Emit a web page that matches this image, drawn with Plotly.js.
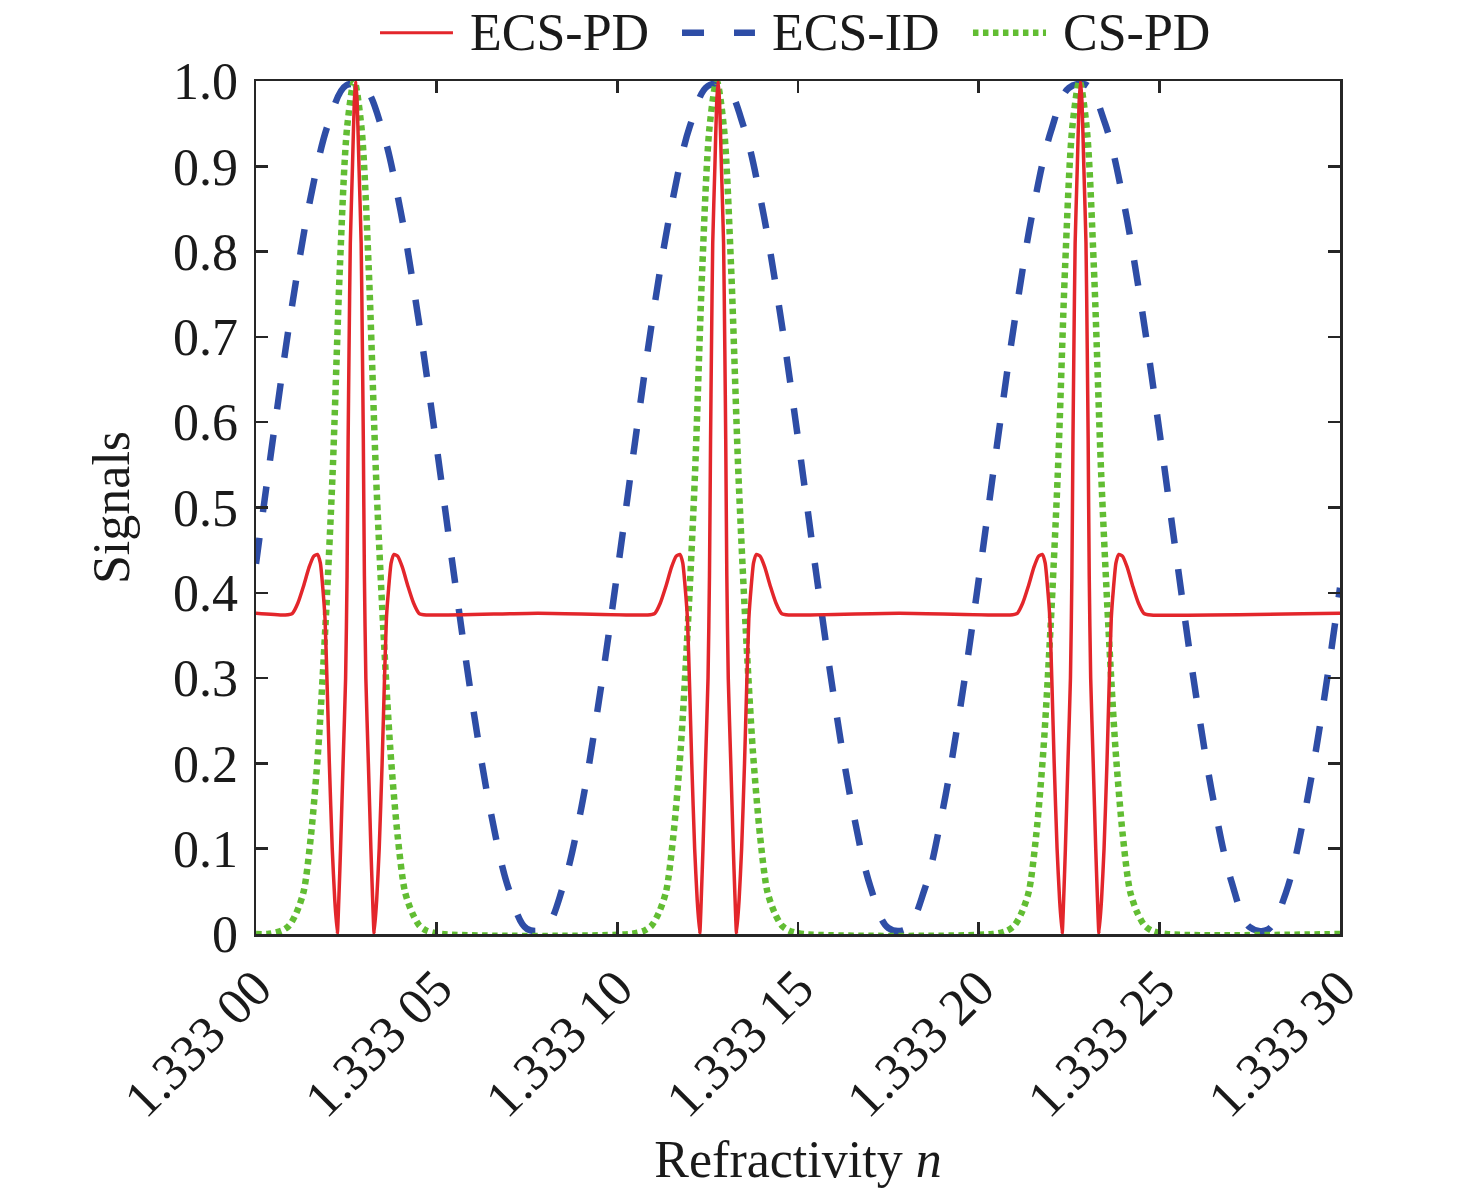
<!DOCTYPE html>
<html>
<head>
<meta charset="utf-8">
<script src="https://cdn.plot.ly/plotly-3.0.1.min.js"></script>
<style>
  html, body { margin: 0; padding: 0; background: #ffffff; }
  #chart1 { width: 1476px; height: 1195px; }
</style>
</head>
<body>
<div id="chart1"></div>
<script>
// refractivity axis: offset from 1.333 00, in units of 1e-5
const tickVals = [0, 5, 10, 15, 20, 25, 30]
const tickText = ['1.333 00', '1.333 05', '1.333 10', '1.333 15', '1.333 20', '1.333 25', '1.333 30']
const yTickVals = [0, 0.1, 0.2, 0.3, 0.4, 0.5, 0.6, 0.7, 0.8, 0.9, 1.0]
const yTickText = ['0', '0.1', '0.2', '0.3', '0.4', '0.5', '0.6', '0.7', '0.8', '0.9', '1.0']

const seriesNames = ['ECS-PD', 'ECS-ID', 'CS-PD']

// ECS-PD (red, solid)
const redDn = [0,
  0.81, 1.01, 1.16, 1.31, 1.47, 1.60, 1.70, 1.78, 1.85, 1.91, 1.97, 2.03, 2.11, 2.18, 2.25, 2.30, 2.34, 2.41, 2.48, 2.52, 2.55, 2.575, 2.61, 2.67, 2.72,
  2.76,
  2.80, 2.85, 2.91, 2.945, 2.97, 3.00, 3.04, 3.11, 3.18, 3.22, 3.27, 3.34, 3.41, 3.49, 3.55, 3.61, 3.67, 3.74, 3.82, 3.92, 4.05, 4.21, 4.36, 4.51, 4.71,
  7.8,
  10.84, 11.04, 11.19, 11.34, 11.50, 11.63, 11.73, 11.81, 11.88, 11.94, 12.00, 12.06, 12.14, 12.21, 12.28, 12.33, 12.37, 12.44, 12.51, 12.55, 12.58, 12.605, 12.64, 12.70, 12.75,
  12.79,
  12.83, 12.88, 12.94, 12.975, 13.00, 13.03, 13.07, 13.14, 13.21, 13.25, 13.30, 13.37, 13.44, 13.52, 13.58, 13.64, 13.70, 13.77, 13.85, 13.95, 14.08, 14.24, 14.39, 14.54, 14.74,
  17.8,
  20.87, 21.07, 21.22, 21.37, 21.53, 21.66, 21.76, 21.84, 21.91, 21.97, 22.03, 22.09, 22.17, 22.24, 22.31, 22.36, 22.40, 22.47, 22.54, 22.58, 22.61, 22.635, 22.67, 22.73, 22.78,
  22.82,
  22.86, 22.91, 22.97, 23.005, 23.03, 23.06, 23.10, 23.17, 23.24, 23.28, 23.33, 23.40, 23.47, 23.55, 23.61, 23.67, 23.73, 23.80, 23.88, 23.98, 24.11, 24.27, 24.42, 24.57, 24.77,
  30]
const redY = [0.376,
  0.374, 0.376, 0.388, 0.407, 0.430, 0.443, 0.445, 0.435, 0.405, 0.370, 0.290, 0.200, 0.100, 0.040, 0.000, 0.050, 0.100, 0.200, 0.300, 0.420, 0.580, 0.685, 0.810, 0.900, 0.975,
  1.000,
  0.975, 0.900, 0.810, 0.685, 0.580, 0.420, 0.300, 0.200, 0.100, 0.050, 0.000, 0.040, 0.100, 0.200, 0.290, 0.370, 0.405, 0.435, 0.445, 0.443, 0.430, 0.407, 0.388, 0.376, 0.374,
  0.376,
  0.374, 0.376, 0.388, 0.407, 0.430, 0.443, 0.445, 0.435, 0.405, 0.370, 0.290, 0.200, 0.100, 0.040, 0.000, 0.050, 0.100, 0.200, 0.300, 0.420, 0.580, 0.685, 0.810, 0.900, 0.975,
  1.000,
  0.975, 0.900, 0.810, 0.685, 0.580, 0.420, 0.300, 0.200, 0.100, 0.050, 0.000, 0.040, 0.100, 0.200, 0.290, 0.370, 0.405, 0.435, 0.445, 0.443, 0.430, 0.407, 0.388, 0.376, 0.374,
  0.376,
  0.374, 0.376, 0.388, 0.407, 0.430, 0.443, 0.445, 0.435, 0.405, 0.370, 0.290, 0.200, 0.100, 0.040, 0.000, 0.050, 0.100, 0.200, 0.300, 0.420, 0.580, 0.685, 0.810, 0.900, 0.975,
  1.000,
  0.975, 0.900, 0.810, 0.685, 0.580, 0.420, 0.300, 0.200, 0.100, 0.050, 0.000, 0.040, 0.100, 0.200, 0.290, 0.370, 0.405, 0.435, 0.445, 0.443, 0.430, 0.407, 0.388, 0.376, 0.374,
  0.376]

// ECS-ID (blue, dashed)
const blueDn = [0, 0.5, 1, 1.5, 2, 2.5, 3, 3.5, 4, 4.5, 5, 5.5, 6, 6.5, 7, 7.5, 8, 8.5, 9, 9.5,
  10, 10.5, 11, 11.5, 12, 12.5, 13, 13.5, 14, 14.5, 15, 15.5, 16, 16.5, 17, 17.5, 18, 18.5, 19, 19.5,
  20, 20.5, 21, 21.5, 22, 22.5, 23, 23.5, 24, 24.5, 25, 25.5, 26, 26.5, 27, 27.5, 28, 28.5, 29, 29.5, 30]
const blueY = [0.434, 0.590, 0.737, 0.861, 0.950, 0.995, 0.992, 0.942, 0.848, 0.720,
  0.571, 0.415, 0.267, 0.142, 0.052, 0.006, 0.007, 0.056, 0.147, 0.276,
  0.424, 0.580, 0.729, 0.854, 0.946, 0.994, 0.994, 0.946, 0.854, 0.729,
  0.581, 0.424, 0.276, 0.149, 0.056, 0.007, 0.006, 0.052, 0.144, 0.268,
  0.415, 0.571, 0.720, 0.848, 0.941, 0.992, 0.995, 0.950, 0.861, 0.737,
  0.590, 0.434, 0.284, 0.156, 0.061, 0.008, 0.005, 0.048, 0.137, 0.259, 0.406]

// CS-PD (green, dotted)
const greenDn = [0,
  0.32, 0.72, 0.92, 1.12, 1.32, 1.52, 1.72, 1.92, 2.12, 2.32, 2.52, 2.72, 2.92, 3.12, 3.32, 3.52, 3.72, 3.92, 4.12, 4.32, 4.52, 4.72, 5.12,
  10.35, 10.75, 10.95, 11.15, 11.35, 11.55, 11.75, 11.95, 12.15, 12.35, 12.55, 12.75, 12.95, 13.15, 13.35, 13.55, 13.75, 13.95, 14.15, 14.35, 14.55, 14.75, 15.15,
  20.39, 20.79, 20.99, 21.19, 21.39, 21.59, 21.79, 21.99, 22.19, 22.39, 22.59, 22.79, 22.99, 23.19, 23.39, 23.59, 23.79, 23.99, 24.19, 24.39, 24.59, 24.79, 25.19,
  30]
const greenY = [0,
  0, 0.004, 0.01, 0.025, 0.05, 0.115, 0.215, 0.36, 0.54, 0.78, 0.945, 1.0, 0.945, 0.78, 0.54, 0.36, 0.215, 0.115, 0.05, 0.025, 0.01, 0.004, 0,
  0, 0.004, 0.01, 0.025, 0.05, 0.115, 0.215, 0.36, 0.54, 0.78, 0.945, 1.0, 0.945, 0.78, 0.54, 0.36, 0.215, 0.115, 0.05, 0.025, 0.01, 0.004, 0,
  0, 0.004, 0.01, 0.025, 0.05, 0.115, 0.215, 0.36, 0.54, 0.78, 0.945, 1.0, 0.945, 0.78, 0.54, 0.36, 0.215, 0.115, 0.05, 0.025, 0.01, 0.004, 0,
  0]

const RED = '#e3262b'
const BLUE = '#2e4da6'
const GREEN = '#62bd33'
const FONT = 'Liberation Serif, Times New Roman, serif'
const INK = '#1a1a1a'
const AXIS = '#262626'
const GREEN_DOTS = '5.5px,4.5px'

var traces = [
    {
        x: blueDn, y: blueY, name: seriesNames[1],
        type: 'scatter', mode: 'lines',
        line: {color: BLUE, width: 6.5, dash: '26px,26px', shape: 'spline', smoothing: 1},
        showlegend: false, hoverinfo: 'skip',
    },
    {
        x: greenDn, y: greenY, name: seriesNames[2],
        type: 'scatter', mode: 'lines',
        line: {color: GREEN, width: 6.5, dash: GREEN_DOTS, shape: 'spline', smoothing: 0.8},
        showlegend: false, hoverinfo: 'skip',
    },
    {
        x: redDn, y: redY, name: seriesNames[0],
        type: 'scatter', mode: 'lines',
        line: {color: RED, width: 3.5, shape: 'spline', smoothing: 0.5},
        showlegend: false, hoverinfo: 'skip',
    },
]

// hand-made legend above the frame (matlab style, long samples)
var legendY = 1.0565
var legendItems = [
    {name: seriesNames[0], color: RED, width: 3, dash: 'solid', x0: 0.1144, x1: 0.1817, tx: 0.196},
    {name: seriesNames[1], color: BLUE, width: 6.5, dash: '22px,30px', x0: 0.393, x1: 0.4603, tx: 0.4745},
    {name: seriesNames[2], color: GREEN, width: 6.5, dash: GREEN_DOTS, x0: 0.6614, x1: 0.7288, tx: 0.743},
]
var shapes = []
var annotations = []
legendItems.forEach(function (it) {
    shapes.push({
        type: 'line', xref: 'paper', yref: 'paper',
        x0: it.x0, x1: it.x1, y0: legendY, y1: legendY,
        line: {color: it.color, width: it.width, dash: it.dash},
    })
    annotations.push({
        xref: 'paper', yref: 'paper', x: it.tx, y: legendY,
        xanchor: 'left', yanchor: 'middle', showarrow: false,
        text: it.name, font: {family: FONT, size: 52, color: INK},
    })
})

var axisStyle = {
    showline: true, linewidth: 2.5, linecolor: AXIS, mirror: 'ticks',
    ticks: 'inside', ticklen: 12, tickwidth: 2.5, tickcolor: AXIS,
    showgrid: false, zeroline: false, fixedrange: true, automargin: false,
    tickfont: {family: FONT, size: 52, color: INK},
}

var layout = {
    width: 1476,
    height: 1195,
    margin: {l: 256, r: 136, t: 81, b: 261},
    paper_bgcolor: '#ffffff',
    plot_bgcolor: '#ffffff',
    font: {family: FONT, size: 52, color: INK},
    showlegend: false,
    xaxis: Object.assign({}, axisStyle, {
        range: [0, 30],
        tickmode: 'array', tickvals: tickVals, ticktext: tickText,
        tickangle: -45,
        ticklabelstandoff: 0,
        title: {text: 'Refractivity <i>n</i>', font: {family: FONT, size: 52, color: INK}, standoff: 14},
    }),
    yaxis: Object.assign({}, axisStyle, {
        range: [0, 1],
        tickmode: 'array', tickvals: yTickVals, ticktext: yTickText,
        ticklabelstandoff: 5,
        title: {text: 'Signals', font: {family: FONT, size: 52, color: INK}, standoff: 27},
    }),
    shapes: shapes,
    annotations: annotations,
}

Plotly.newPlot('chart1', traces, layout, {displayModeBar: false, staticPlot: true})
</script>
</body>
</html>
